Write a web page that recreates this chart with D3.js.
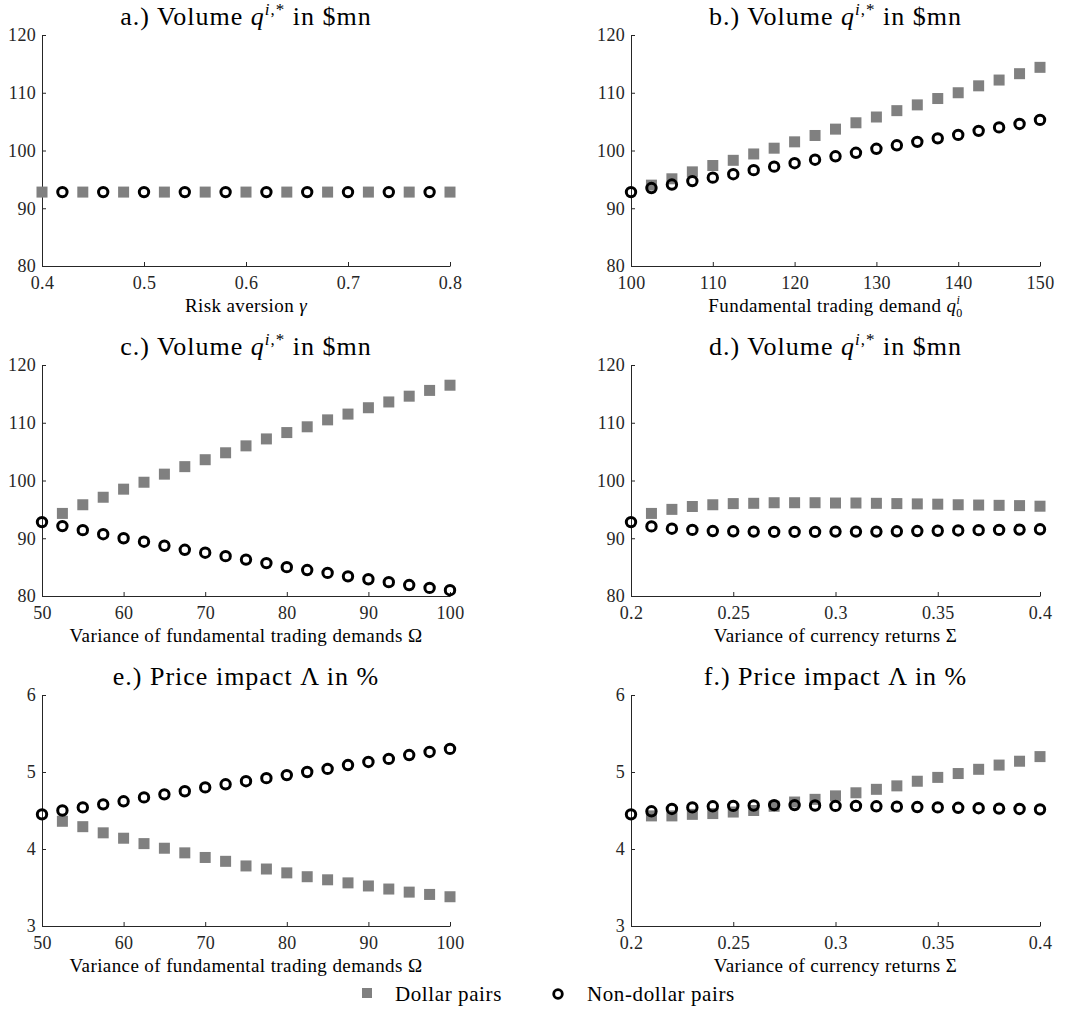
<!DOCTYPE html>
<meta charset="utf-8">
<style>
    body { margin: 0; background: #fff; }
    text { font-family: "Liberation Serif", serif; fill: #000; }
    .tick text { font-size: 18px; fill: #262626; letter-spacing: 0.3px; }
    .domain, .tick line { stroke: #262626; }
</style>
<script src="https://d3js.org/d3.v7.min.js"></script>
<svg width="1073" height="1014"></svg>
<script>
    // x values
    let xGamma = [0.40, 0.42, 0.44, 0.46, 0.48, 0.50, 0.52, 0.54, 0.56, 0.58, 0.60, 0.62, 0.64, 0.66, 0.68, 0.70, 0.72, 0.74, 0.76, 0.78, 0.80];
    let xQ0 = [100, 102.5, 105, 107.5, 110, 112.5, 115, 117.5, 120, 122.5, 125, 127.5, 130, 132.5, 135, 137.5, 140, 142.5, 145, 147.5, 150];
    let xOmega = [50, 52.5, 55, 57.5, 60, 62.5, 65, 67.5, 70, 72.5, 75, 77.5, 80, 82.5, 85, 87.5, 90, 92.5, 95, 97.5, 100];
    let xSigma = [0.20, 0.21, 0.22, 0.23, 0.24, 0.25, 0.26, 0.27, 0.28, 0.29, 0.30, 0.31, 0.32, 0.33, 0.34, 0.35, 0.36, 0.37, 0.38, 0.39, 0.40];

    // series (null = no marker drawn)
    let aDollar = [92.8, null, 92.8, null, 92.8, null, 92.8, null, 92.8, null, 92.8, null, 92.8, null, 92.8, null, 92.8, null, 92.8, null, 92.8];
    let aNonDollar = [null, 92.8, null, 92.8, null, 92.8, null, 92.8, null, 92.8, null, 92.8, null, 92.8, null, 92.8, null, 92.8, null, 92.8, null];
    let bDollar = [null, 94.0, 95.1, 96.3, 97.4, 98.3, 99.4, 100.4, 101.5, 102.6, 103.7, 104.8, 105.8, 106.9, 107.9, 109.0, 110.0, 111.2, 112.2, 113.3, 114.4];
    let bNonDollar = [92.8, 93.5, 94.1, 94.7, 95.3, 95.9, 96.6, 97.2, 97.8, 98.4, 99.0, 99.6, 100.3, 100.9, 101.5, 102.1, 102.7, 103.4, 104.0, 104.6, 105.3];
    let cDollar = [null, 94.3, 95.8, 97.1, 98.5, 99.7, 101.1, 102.4, 103.6, 104.8, 106.0, 107.2, 108.3, 109.3, 110.5, 111.5, 112.6, 113.6, 114.6, 115.6, 116.5];
    let cNonDollar = [92.8, 92.1, 91.4, 90.7, 90.0, 89.4, 88.7, 88.0, 87.5, 86.9, 86.3, 85.7, 85.0, 84.5, 84.0, 83.4, 82.9, 82.4, 81.9, 81.4, 81.0];
    let dDollar = [null, 94.3, 95.0, 95.5, 95.8, 96.0, 96.05, 96.15, 96.15, 96.15, 96.1, 96.1, 96.05, 96.0, 95.95, 95.9, 95.8, 95.75, 95.7, 95.65, 95.55];
    let dNonDollar = [92.8, 92.05, 91.65, 91.45, 91.25, 91.2, 91.15, 91.1, 91.1, 91.1, 91.15, 91.15, 91.15, 91.2, 91.25, 91.3, 91.35, 91.4, 91.45, 91.5, 91.55];
    let eDollar = [null, 4.36, 4.29, 4.21, 4.14, 4.07, 4.01, 3.95, 3.89, 3.84, 3.78, 3.74, 3.69, 3.64, 3.60, 3.56, 3.52, 3.48, 3.44, 3.41, 3.38];
    let eNonDollar = [4.45, 4.50, 4.54, 4.58, 4.62, 4.67, 4.71, 4.75, 4.80, 4.84, 4.88, 4.92, 4.96, 5.00, 5.04, 5.09, 5.13, 5.17, 5.22, 5.26, 5.30];
    let fDollar = [null, 4.43, 4.43, 4.45, 4.46, 4.48, 4.50, 4.555, 4.61, 4.645, 4.69, 4.73, 4.775, 4.82, 4.88, 4.93, 4.98, 5.035, 5.09, 5.14, 5.20];
    let fNonDollar = [4.45, 4.49, 4.52, 4.54, 4.555, 4.56, 4.565, 4.57, 4.57, 4.565, 4.56, 4.56, 4.555, 4.55, 4.545, 4.54, 4.535, 4.53, 4.525, 4.52, 4.515];

    // ticks
    let ticksGamma = [0.4, 0.5, 0.6, 0.7, 0.8];
    let ticksQ0 = [100, 110, 120, 130, 140, 150];
    let ticksOmega = [50, 60, 70, 80, 90, 100];
    let ticksSigma = [0.2, 0.25, 0.3, 0.35, 0.4];
    let ticksVolume = [80, 90, 100, 110, 120];
    let ticksImpact = [3, 4, 5, 6];

    let legendLabels = ["Dollar pairs", "Non-dollar pairs"];

    let svg = d3.select("svg");
    let colLeft = [42, 450], colRight = [631, 1040];
    let rowTop = [35, 365, 695];
    let plotH = 231;

    let panels = [
        {letter: "a", kind: "volume", cols: colLeft, row: 0, x: xGamma, dollar: aDollar, non: aNonDollar, xTicks: ticksGamma, yDom: [80, 120], yTicks: ticksVolume, label: "gamma"},
        {letter: "b", kind: "volume", cols: colRight, row: 0, x: xQ0, dollar: bDollar, non: bNonDollar, xTicks: ticksQ0, yDom: [80, 120], yTicks: ticksVolume, label: "q0"},
        {letter: "c", kind: "volume", cols: colLeft, row: 1, x: xOmega, dollar: cDollar, non: cNonDollar, xTicks: ticksOmega, yDom: [80, 120], yTicks: ticksVolume, label: "omega"},
        {letter: "d", kind: "volume", cols: colRight, row: 1, x: xSigma, dollar: dDollar, non: dNonDollar, xTicks: ticksSigma, yDom: [80, 120], yTicks: ticksVolume, label: "sigma"},
        {letter: "e", kind: "impact", cols: colLeft, row: 2, x: xOmega, dollar: eDollar, non: eNonDollar, xTicks: ticksOmega, yDom: [3, 6], yTicks: ticksImpact, label: "omega"},
        {letter: "f", kind: "impact", cols: colRight, row: 2, x: xSigma, dollar: fDollar, non: fNonDollar, xTicks: ticksSigma, yDom: [3, 6], yTicks: ticksImpact, label: "sigma"}
    ];

    let plain = function(d) { return d; };

    panels.forEach(function(p) {
        let top = rowTop[p.row];
        let x = d3.scaleLinear().domain(d3.extent(p.xTicks)).range(p.cols);
        let y = d3.scaleLinear().domain(p.yDom).range([top + plotH, top]);
        let g = svg.append("g");

        g.append("g")
            .attr("transform", "translate(0," + (top + plotH) + ")")
            .call(d3.axisBottom(x).tickValues(p.xTicks).tickFormat(plain)
                .tickSizeInner(-4).tickSizeOuter(0).tickPadding(10));
        g.append("g")
            .attr("transform", "translate(" + p.cols[0] + ",0)")
            .call(d3.axisLeft(y).tickValues(p.yTicks).tickFormat(plain)
                .tickSizeInner(-4).tickSizeOuter(0).tickPadding(6));
        g.selectAll(".tick text").style("font-family", "'Liberation Serif', serif");

        let pts = p.x.map(function(v, i) { return {x: v, d: p.dollar[i], n: p.non[i]}; });
        let s = 11;
        g.selectAll(".sq").data(pts.filter(function(d) { return d.d != null; }))
            .enter().append("rect")
            .attr("x", function(d) { return x(d.x) - s / 2; })
            .attr("y", function(d) { return y(d.d) - s / 2; })
            .attr("width", s).attr("height", s)
            .style("fill", "#808080");
        g.selectAll(".ci").data(pts.filter(function(d) { return d.n != null; }))
            .enter().append("circle")
            .attr("cx", function(d) { return x(d.x); })
            .attr("cy", function(d) { return y(d.n); })
            .attr("r", 4.7)
            .style("fill", "none").style("stroke", "#000").style("stroke-width", 3);

        // title
        let cx = (p.cols[0] + p.cols[1]) / 2;
        let t = g.append("text").attr("x", cx).attr("y", top - 10)
            .attr("text-anchor", "middle").style("font-size", "26px").style("letter-spacing", "1px");
        if (p.kind === "volume") {
            t.append("tspan").text(p.letter + ".)  Volume ");
            t.append("tspan").style("font-style", "italic").text("q");
            t.append("tspan").attr("dy", -10).style("font-size", "17px").style("font-style", "italic").text("i");
            t.append("tspan").style("font-size", "17px").text(",*");
            t.append("tspan").attr("dy", 10).text(" in $mn");
        } else {
            t.append("tspan").text(p.letter + ".)  Price impact Λ in %");
        }

        // x label
        let l = g.append("text").attr("x", cx).attr("y", top + plotH + 46)
            .attr("text-anchor", "middle").style("font-size", "19px").style("letter-spacing", "0.4px");
        if (p.label === "gamma") {
            l.append("tspan").text("Risk aversion ");
            l.append("tspan").style("font-style", "italic").text("γ");
        } else if (p.label === "q0") {
            l.append("tspan").text("Fundamental trading demand ");
            l.append("tspan").style("font-style", "italic").text("q");
            l.append("tspan").attr("dy", -8).style("font-size", "12px").style("font-style", "italic").text("i");
            l.append("tspan").attr("dx", -4).attr("dy", 13).style("font-size", "12px").text("0");
        } else if (p.label === "omega") {
            l.append("tspan").text("Variance of fundamental trading demands Ω");
        } else {
            l.append("tspan").text("Variance of currency returns Σ");
        }
    });

    // legend
    let leg = svg.append("g");
    leg.append("rect").attr("x", 362).attr("y", 988).attr("width", 10).attr("height", 10).style("fill", "#808080");
    leg.append("text").attr("x", 395).attr("y", 1001).style("font-size", "21px").style("letter-spacing", "0.6px").text(legendLabels[0]);
    leg.append("circle").attr("cx", 558).attr("cy", 994).attr("r", 4.3)
        .style("fill", "none").style("stroke", "#000").style("stroke-width", 2.8);
    leg.append("text").attr("x", 587).attr("y", 1001).style("font-size", "21px").style("letter-spacing", "0.6px").text(legendLabels[1]);
</script>
